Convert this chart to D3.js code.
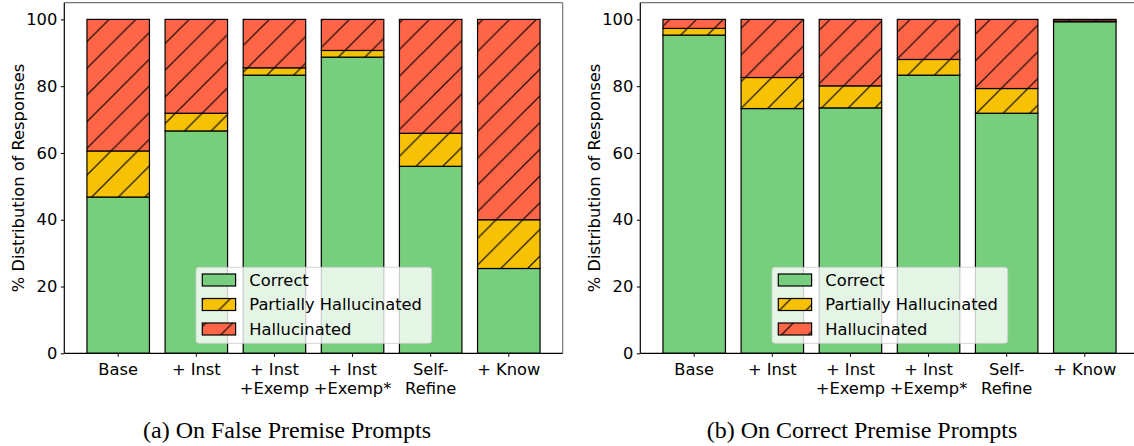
<!DOCTYPE html>
<html>
<head>
<meta charset="utf-8">
<script src="https://cdn.jsdelivr.net/npm/d3@7"></script>
<style>
  html, body { margin: 0; padding: 0; background: #fff; }
  svg { display: block; }
  text { font-family: "DejaVu Sans", sans-serif; fill: #000; }
</style>
</head>
<body>
<svg id="chart" width="1134" height="446"></svg>
<script>
// ---- data ----
const categories = ["Base", "+ Inst", "+ Inst +Exemp", "+ Inst +Exemp*", "Self-Refine", "+ Know"];
const tickLabels = [["Base"], ["+ Inst"], ["+ Inst", "+Exemp"], ["+ Inst", "+Exemp*"], ["Self-", "Refine"], ["+ Know"]];
const seriesNames = ["Correct", "Partially Hallucinated", "Hallucinated"];
const yTicks = [0, 20, 40, 60, 80, 100];

// (a) false premise prompts
const correctFalse = [46.8, 66.6, 83.3, 88.7, 56.0, 25.4];
const partialFalse = [13.8, 5.3, 2.2, 2.0, 9.9, 14.6];
const hallucFalse  = [39.4, 28.1, 14.5, 9.3, 34.1, 60.0];

// (b) correct premise prompts
const correctTrue = [95.3, 73.3, 73.5, 83.3, 71.9, 99.3];
const partialTrue = [2.0, 9.3, 6.6, 4.7, 7.4, 0.2];
const hallucTrue  = [2.7, 17.4, 19.9, 12.0, 20.7, 0.5];

const captions = ["(a) On False Premise Prompts", "(b) On Correct Premise Prompts"];

// ---- styling ----
const colors = ["#77CE7D", "#F7C106", "#FF6647"];
const hatched = [false, true, true];
const FS = 16.3;

const svg = d3.select("#chart");
const defs = svg.append("defs");
const hs = 26.7;
colors.forEach((c, i) => {
  const p = defs.append("pattern")
    .attr("id", "hatch" + i)
    .attr("patternUnits", "userSpaceOnUse")
    .attr("x", 21.7).attr("y", 0)
    .attr("width", hs).attr("height", hs);
  p.append("rect").attr("width", hs).attr("height", hs).attr("fill", c);
  if (hatched[i]) {
    p.append("path")
      .attr("d", `M${-hs*0.1},${hs*1.1} L${hs*1.1},${-hs*0.1} M${-hs/2},${hs/2} L${hs/2},${-hs/2} M${hs/2},${hs*1.5} L${hs*1.5},${hs/2}`)
      .attr("stroke", "#000").attr("stroke-width", 1.2);
  }
});

const panels = [
  { x0: 64.3, values: [correctFalse, partialFalse, hallucFalse], caption: captions[0], capX: 287, yLabelX: 18 },
  { x0: 640.3, values: [correctTrue, partialTrue, hallucTrue], caption: captions[1], capX: 862, yLabelX: 594 }
];
const axW = 498.4, yTop = 2.7, yBot = 353.3;

panels.forEach(pn => {
  const x = d3.scaleBand().domain(categories).range([pn.x0, pn.x0 + axW]).paddingInner(0.2).paddingOuter(0.29);
  const y = d3.scaleLinear().domain([0, 105]).range([yBot, yTop]);

  const rows = categories.map((c, i) => {
    const r = { cat: c };
    seriesNames.forEach((s, k) => r[s] = pn.values[k][i]);
    return r;
  });
  const stacked = d3.stack().keys(seriesNames)(rows);

  const g = svg.append("g");
  stacked.forEach((layer, k) => {
    g.selectAll(null).data(layer).enter().append("rect")
      .attr("x", d => x(d.data.cat))
      .attr("width", x.bandwidth())
      .attr("y", d => y(d[1]))
      .attr("height", d => y(d[0]) - y(d[1]))
      .attr("fill", `url(#hatch${k})`)
      .attr("stroke", "#000")
      .attr("stroke-width", 1.2);
  });

  // spines
  const x1 = pn.x0 + axW;
  svg.append("line").attr("x1", pn.x0).attr("x2", x1).attr("y1", yTop).attr("y2", yTop).attr("stroke", "#777").attr("stroke-width", 1.2);
  svg.append("line").attr("x1", x1).attr("x2", x1).attr("y1", yTop).attr("y2", yBot).attr("stroke", "#777").attr("stroke-width", 1.2);

  // y axis
  const ya = svg.append("g").attr("transform", `translate(${pn.x0},0)`)
    .call(d3.axisLeft(y).tickValues(yTicks).tickSize(3.5).tickPadding(3.5).tickSizeOuter(0));
  ya.select(".domain").attr("stroke", "#000").attr("stroke-width", 1.2).attr("d", `M0,${yTop}V${yBot}`);
  ya.selectAll(".tick line").attr("stroke", "#000").attr("stroke-width", 1);
  ya.selectAll(".tick text").style("font-size", FS + "px").style("font-family", "DejaVu Sans");

  // x axis
  const xa = svg.append("g").attr("transform", `translate(0,${yBot})`)
    .call(d3.axisBottom(x).tickSize(3.5).tickPadding(3.5).tickSizeOuter(0));
  xa.select(".domain").attr("stroke", "#000").attr("stroke-width", 1.2).attr("d", `M${pn.x0},0H${x1}`);
  xa.selectAll(".tick line").attr("stroke", "#000").attr("stroke-width", 1);
  xa.selectAll(".tick text").each(function(d, i) {
    const t = d3.select(this);
    t.text(null).attr("dy", null).attr("y", 0)
      .style("font-size", FS + "px").style("font-family", "DejaVu Sans");
    tickLabels[i].forEach((line, j) => {
      t.append("tspan").attr("x", 0).attr("y", 21.7 + j * 19.2).text(line);
    });
  });

  // y label
  svg.append("text")
    .attr("transform", `translate(${pn.yLabelX},${(yTop + yBot) / 2}) rotate(-90)`)
    .attr("text-anchor", "middle").attr("dominant-baseline", "central")
    .style("font-size", FS + "px")
    .text("% Distribution of Responses");

  // legend
  const lx = pn.x0 + 131.7, ly = 267.3;
  const lg = svg.append("g");
  lg.append("rect").attr("x", lx).attr("y", ly).attr("width", 235.7).attr("height", 76)
    .attr("rx", 3).attr("fill", "#fff").attr("fill-opacity", 0.8)
    .attr("stroke", "#ccc").attr("stroke-opacity", 0.8).attr("stroke-width", 1);
  seriesNames.forEach((s, k) => {
    const cy = ly + 12.7 + k * 24.5;
    lg.append("rect").attr("x", lx + 6.3).attr("y", cy - 6).attr("width", 33.3).attr("height", 12)
      .attr("fill", `url(#hatch${k})`).attr("stroke", "#000").attr("stroke-width", 1.2);
    lg.append("text").attr("x", lx + 53.3).attr("y", cy).attr("dominant-baseline", "central")
      .style("font-size", FS + "px").text(s);
  });

  // caption
  svg.append("text").attr("x", pn.capX).attr("y", 438).attr("text-anchor", "middle")
    .style("font-family", "'Liberation Serif', 'Times New Roman', serif").style("font-size", "24px")
    .text(pn.caption);
});
</script>
</body>
</html>
